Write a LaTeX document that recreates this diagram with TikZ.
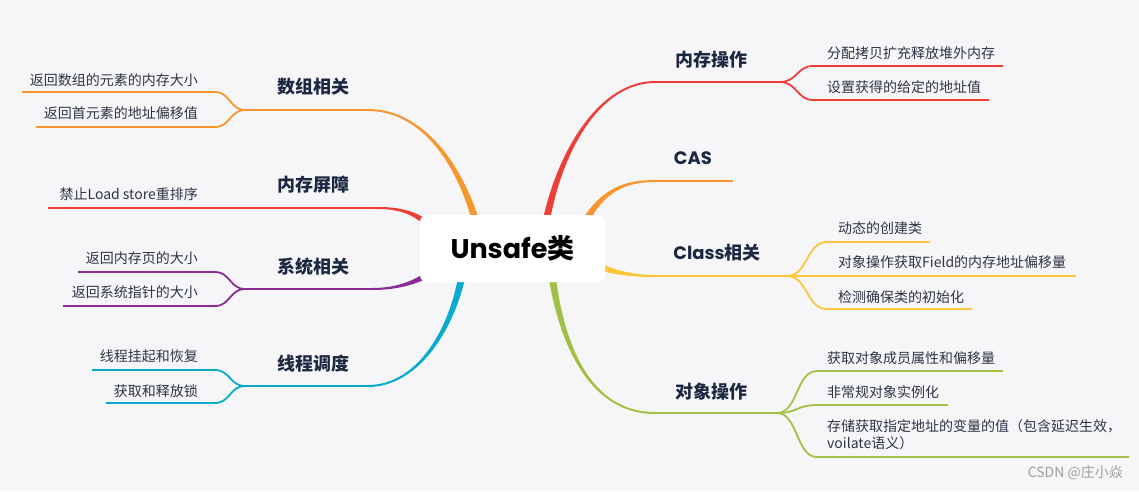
\documentclass[tikz,border=0pt]{standalone}
\usepackage{fontspec}
\setmainfont{Noto Sans CJK SC}
\newfontfamily\latfont{Poppins}
\usetikzlibrary{calc}
\definecolor{bg}{HTML}{F6F6F9}
\definecolor{cred}{HTML}{EC4036}
\definecolor{corange}{HTML}{F7962F}
\definecolor{cyellow}{HTML}{FDC63A}
\definecolor{cpurple}{HTML}{8A2B96}
\definecolor{ccyan}{HTML}{08AACE}
\definecolor{cgreen}{HTML}{A2C144}
\definecolor{labelc}{HTML}{1C2841}
\definecolor{leafc}{HTML}{2E3445}
\newcommand\mybranch[5]{%
  \coordinate (bS) at (#2); \coordinate (b1) at (#3);
  \coordinate (b2) at (#4); \coordinate (bE) at (#5);
  \fill[#1] ($(bS)!3.6pt!90:(b1)$) .. controls ($(b1)!2.3pt!90:(b2)$) and ($(b2)!1pt!90:(bE)$) .. ($(bE)!1pt!-90:(b2)$)
    -- ($(bE)!1pt!90:(b2)$) .. controls ($(b2)!1pt!-90:(bE)$) and ($(b1)!2.3pt!-90:(b2)$) .. ($(bS)!3.6pt!-90:(b1)$) -- cycle;
}
\tikzset{
  mainline/.style={line width=2pt},
  leafline/.style={line width=1.8pt},
  lab/.style={text=labelc, font=\fontsize{18}{22}\selectfont\bfseries, inner sep=0pt},
  leafL/.style={text=leafc, font=\fontsize{14}{17}\selectfont, inner sep=0pt, anchor=east},
  leafR/.style={text=leafc, font=\fontsize{14}{17}\selectfont, inner sep=0pt, anchor=west, align=left},
  rootbox/.style={fill=white, rounded corners=7pt, minimum width=185pt, minimum height=67pt,
    font=\fontsize{27}{30}\selectfont\bfseries, text=black, inner sep=0pt},
}
\begin{document}
\begin{tikzpicture}[x=1pt,y=-1pt]
\fill[bg] (0,0) rectangle (1139,491);
\useasboundingbox (0,0) rectangle (1139,491);

% ---------- left: 数组相关 ----------
\mybranch{corange}{476,222}{458,160}{420,110}{368,110}
\coordinate (aF) at (245,110);
\coordinate (a1) at (215,92); \coordinate (a1e) at (22,92);
\coordinate (a2) at (215,127); \coordinate (a2e) at (36,127);
\draw[corange, mainline] (bE) -- (aF);
\draw[corange, leafline] (aF) .. controls (230,110) and (230,92) .. (a1) -- (a1e);
\draw[corange, leafline] (aF) .. controls (230,110) and (230,127) .. (a2) -- (a2e);
\node[lab] (la) at (313,87) {数组相关};
\node[leafL] (ta1) at (198,80) {返回数组的元素的内存大小};
\node[leafL] (ta2) at (198,113) {返回首元素的地址偏移值};

% ---------- left: 内存屏障 ----------
\mybranch{cred}{432,228}{418,214}{402,208}{378,208}
\coordinate (be) at (48,208);
\draw[cred, mainline] (bE) -- (be);
\node[lab] (lb) at (313,185) {内存屏障};
\node[leafL] (tb1) at (198,194) {禁止Load store重排序};

% ---------- left: 系统相关 ----------
\mybranch{cpurple}{432,272}{418,281}{400,289}{372,289}
\coordinate (cF) at (245,289);
\coordinate (c1) at (215,272); \coordinate (c1e) at (78,272);
\coordinate (c2) at (215,306); \coordinate (c2e) at (63,306);
\draw[cpurple, mainline] (bE) -- (cF);
\draw[cpurple, leafline] (cF) .. controls (230,289) and (230,272) .. (c1) -- (c1e);
\draw[cpurple, leafline] (cF) .. controls (230,289) and (230,306) .. (c2) -- (c2e);
\node[lab] (lc) at (313,267) {系统相关};
\node[leafL] (tc1) at (198,258) {返回内存页的大小};
\node[leafL] (tc2) at (198,292) {返回系统指针的大小};

% ---------- left: 线程调度 ----------
\mybranch{ccyan}{462,276}{450,335}{415,386}{368,386}
\coordinate (dF) at (245,386);
\coordinate (d1) at (215,370); \coordinate (d1e) at (92,370);
\coordinate (d2) at (215,403); \coordinate (d2e) at (106,403);
\draw[ccyan, mainline] (bE) -- (dF);
\draw[ccyan, leafline] (dF) .. controls (230,386) and (230,370) .. (d1) -- (d1e);
\draw[ccyan, leafline] (dF) .. controls (230,386) and (230,403) .. (d2) -- (d2e);
\node[lab] (ld) at (313,364) {线程调度};
\node[leafL] (td1) at (198,356) {线程挂起和恢复};
\node[leafL] (td2) at (198,391) {获取和释放锁};

% ---------- right: 内存操作 ----------
\mybranch{cred}{546,222}{560,150}{600,82}{655,82}
\coordinate (eF) at (780,82);
\coordinate (e1) at (813,66); \coordinate (e1e) at (1003,66);
\coordinate (e2) at (813,100); \coordinate (e2e) at (989,100);
\draw[cred, mainline] (bE) -- (eF);
\draw[cred, leafline] (eF) .. controls (797,82) and (797,66) .. (e1) -- (e1e);
\draw[cred, leafline] (eF) .. controls (797,82) and (797,100) .. (e2) -- (e2e);
\node[lab] (le) at (711,60) {内存操作};
\node[leafR] (te1) at (827,53) {分配拷贝扩充释放堆外内存};
\node[leafR] (te2) at (827,87) {设置获得的给定的地址值};

% ---------- right: CAS ----------
\mybranch{corange}{585,222}{603,190}{625,181}{655,181}
\coordinate (fe) at (733,181);
\draw[corange, mainline] (bE) -- (fe);
\node[lab] (lf) at (693,158) {\latfont\bfseries CAS};

% ---------- right: Class相关 ----------
\mybranch{cyellow}{598,266}{615,273}{635,276}{655,276}
\coordinate (gF) at (787,276);
\coordinate (g1) at (827,242); \coordinate (g1e) at (930,242);
\coordinate (g2e) at (1076,276);
\coordinate (g3) at (827,309); \coordinate (g3e) at (972,309);
\draw[cyellow, mainline] (bE) -- (gF);
\draw[cyellow, leafline] (gF) .. controls (808,276) and (806,242) .. (g1) -- (g1e);
\draw[cyellow, leafline] (gF) -- (g2e);
\draw[cyellow, leafline] (gF) .. controls (808,276) and (806,309) .. (g3) -- (g3e);
\node[lab] (lg) at (717,253) {{\latfont\bfseries Class}相关};
\node[leafR] (tg1) at (838,228) {动态的创建类};
\node[leafR] (tg2) at (838,262) {对象操作获取Field的内存地址偏移量};
\node[leafR] (tg3) at (838,297) {检测确保类的初始化};

% ---------- right: 对象操作 ----------
\mybranch{cgreen}{552,276}{562,345}{590,413}{655,413}
\coordinate (hF) at (777,413);
\coordinate (h1) at (817,371); \coordinate (h1e) at (1003,371);
\coordinate (h2) at (817,405); \coordinate (h2e) at (948,405);
\coordinate (h3) at (817,457); \coordinate (h3e) at (1129,457);
\draw[cgreen, mainline] (bE) -- (hF);
\draw[cgreen, leafline] (hF) .. controls (798,413) and (796,371) .. (h1) -- (h1e);
\draw[cgreen, leafline] (hF) .. controls (798,413) and (796,405) .. (h2) -- (h2e);
\draw[cgreen, leafline] (hF) .. controls (798,413) and (796,457) .. (h3) -- (h3e);
\node[lab] (lh) at (711,392) {对象操作};
\node[leafR] (th1) at (827,358) {获取对象成员属性和偏移量};
\node[leafR] (th2) at (827,392) {非常规对象实例化};
\node[leafR] (th3) at (827,434.5) {存储获取指定地址的变量的值（包含延迟生效，\\voilate语义）};

% ---------- root ----------
\node[rootbox] (root) at (512.5,248.5) {{\latfont\bfseries Unsafe}类};

% ---------- watermark ----------
\node[text=black!38, font=\fontsize{14}{16}\selectfont, anchor=east, inner sep=0pt] (wm) at (1123,473) {CSDN @庄小焱};
\end{tikzpicture}
\end{document}
